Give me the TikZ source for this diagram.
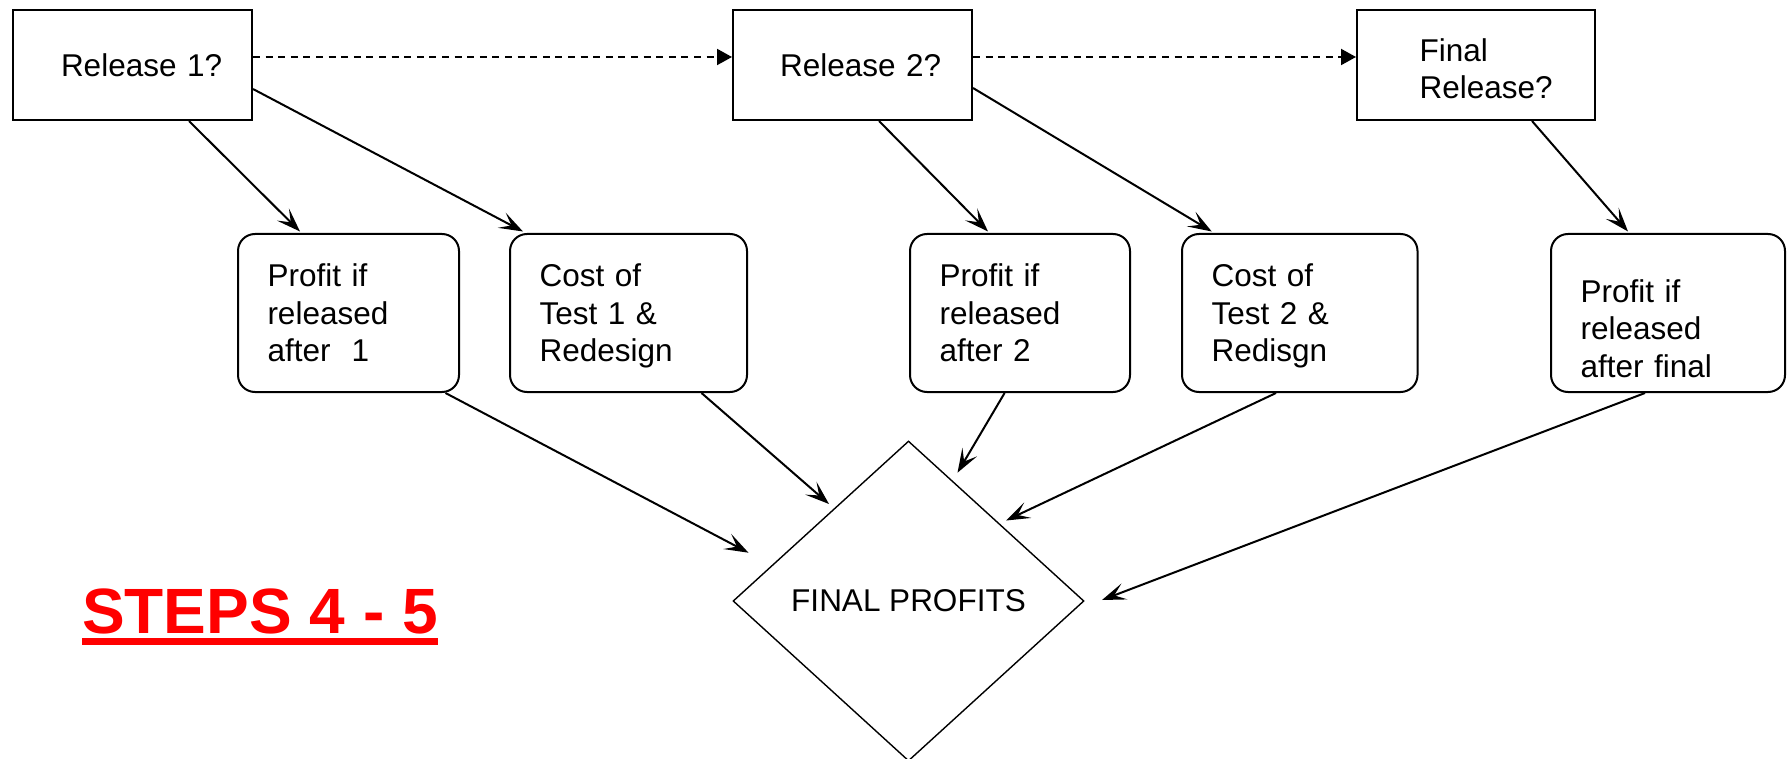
\documentclass[tikz,border=0pt]{standalone}
\usepackage{fontspec}
\setmainfont{Liberation Sans}
\usetikzlibrary{arrows.meta,shapes.geometric,calc}
\begin{document}
\begin{tikzpicture}[x=1pt,y=-1pt,
  every node/.style={font=\fontsize{31.5}{37.5}\selectfont},
  decision/.style={draw, line width=2pt, inner ysep=0pt, align=left, minimum height=110pt},
  outcome/.style={draw, line width=2pt, rounded corners=17pt, inner xsep=29.5pt, inner ysep=0pt, minimum height=158pt, align=left},
  finalnode/.style={draw, diamond, line width=1.4pt, minimum width=351pt, minimum height=320pt, inner sep=0pt},
  link/.style={line width=2pt, -{Stealth[length=24pt,width=17pt,inset=11pt]}},
  seq/.style={line width=2pt, dash pattern=on 7pt off 5.6pt, -{Triangle[length=15pt,width=16pt]}},
]
\useasboundingbox[fill=white] (0,0) rectangle (1787,759);

% decision boxes
\node[decision, inner xsep=48pt, text width=143pt] (r1) at (132.5,65) {\mbox{Release 1?}};
\node[decision, inner xsep=47pt, text width=145pt] (r2) at (852.5,65) {\mbox{Release 2?}};
\node[decision, inner xsep=62.5pt, text width=113pt] (r3) at (1476,65) {\rule{0pt}{30pt}Final\\\mbox{Release?}};

% outcome boxes
\node[outcome, text width=162pt] (p1) at (348.5,313) {Profit if\\released\\after\ \ 1};
\node[outcome, text width=178pt] (c1) at (628.5,313) {Cost of\\Test 1 \&\\\smash{Redesign}};
\node[outcome, text width=161pt] (p2) at (1020,313) {Profit if\\released\\after 2};
\node[outcome, text width=176.5pt] (c2) at (1299.75,313) {Cost of\\Test 2 \&\\\smash{Redisgn}};
\node[outcome, text width=175pt] (pf) at (1668,313) {\rule{0pt}{54pt}Profit if\\released\\after final};

% final profits
\node[finalnode] (fp) at (908.5,601) {FINAL PROFITS};

% title
\node[anchor=base west, inner sep=0pt, text=red, font=\fontsize{64}{70}\selectfont\bfseries] (steps) at (82,633) {STEPS 4 - 5};
\draw[red, line width=6.5pt] ($(steps.base west)+(0,8.6)$) -- ($(steps.base east)+(0,8.6)$);

% sequence arrows
\draw[seq] ($(r1.east)+(0,-8)$) -- ($(r2.west)+(0,-8)$);
\draw[seq] ($(r2.east)+(0,-8)$) -- ($(r3.west)+(0,-8)$);

% decision to outcome
\draw[link] ($(r1.south)+(56.5,0)$) -- ($(p1.north)+(-48.5,-1.5)$);
\draw[link] ($(r1.east)+(0,24)$) -- ($(c1.north)+(-105.5,-1.5)$);
\draw[link] ($(r2.south)+(26.5,0)$) -- ($(p2.north)+(-32,-1.5)$);
\draw[link] ($(r2.east)+(0,23)$) -- ($(c2.north)+(-88,-1.5)$);
\draw[link] ($(r3.south)+(56,0)$) -- ($(pf.north)+(-40,-1.5)$);

% outcome to final profits
\draw[link] ($(p1.south)+(97,0)$) -- ($(fp.center)+(-160,-48.3)$);
\draw[link] ($(c1.south)+(73,0)$) -- ($(fp.center)+(-79.5,-97)$);
\draw[link] ($(p2.south)+(-15.4,0)$) -- ($(fp.center)+(49,-128.3)$);
\draw[link] ($(c2.south)+(-23.75,0)$) -- ($(fp.center)+(97.5,-80.5)$);
\draw[link] ($(pf.south)+(-23,0)$) -- ($(fp.center)+(193.5,-1)$);
\end{tikzpicture}
\end{document}
